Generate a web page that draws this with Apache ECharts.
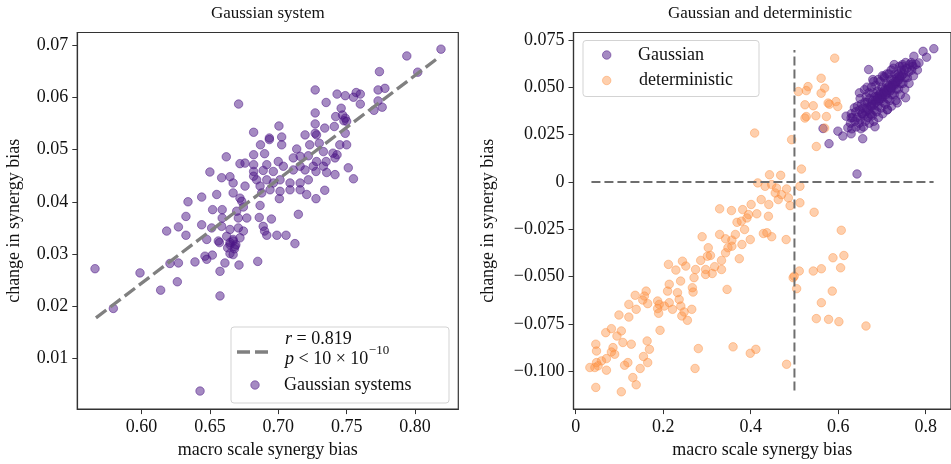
<!DOCTYPE html>
<html>
<head>
<meta charset="utf-8">
<script src="https://cdn.jsdelivr.net/npm/echarts@6/dist/echarts.min.js"></script>
<style>
  html, body { margin: 0; padding: 0; background: #fff; }
  #chart { width: 951px; height: 464px; }
</style>
</head>
<body>
<div id="chart"></div>
<script>
// left panel: gaussian systems [macro bias, change in bias]
var gaussSystems = [
  [0.819,0.0692],[0.794,0.0679],[0.774,0.0649],[0.802,0.0648],[0.727,0.0614],[0.743,0.0606],[0.749,0.0603],[0.757,0.0609],
  [0.760,0.0606],[0.755,0.0600],[0.773,0.0614],[0.778,0.0617],[0.773,0.0593],[0.776,0.0581],[0.770,0.0575],[0.760,0.0587],
  [0.735,0.0590],[0.746,0.0579],[0.671,0.0587],[0.727,0.0570],[0.742,0.0563],[0.749,0.0560],[0.750,0.0554],[0.682,0.0533],
  [0.7005,0.0545],[0.727,0.0549],[0.734,0.0541],[0.741,0.0544],[0.727,0.0531],[0.7196,0.0528],[0.6935,0.0522],[0.7025,0.0524],
  [0.749,0.0531],[0.687,0.0509],[0.6935,0.0519],[0.7025,0.0509],[0.728,0.0528],[0.723,0.0509],[0.730,0.0512],[0.745,0.0509],
  [0.750,0.0509],[0.7135,0.0501],[0.733,0.0496],[0.740,0.0493],[0.743,0.0490],[0.662,0.0486],[0.682,0.0490],[0.690,0.0492],
  [0.700,0.0477],[0.711,0.0484],[0.716,0.0487],[0.722,0.0488],[0.728,0.0477],[0.735,0.0477],[0.7415,0.0484],[0.672,0.0473],
  [0.6757,0.0474],[0.682,0.0471],[0.6916,0.0471],[0.7037,0.0468],[0.716,0.0468],[0.7196,0.0461],[0.7256,0.0468],[0.733,0.0468],
  [0.650,0.0457],[0.682,0.0458],[0.689,0.0460],[0.6964,0.0458],[0.711,0.0461],[0.7276,0.0458],[0.7354,0.0456],[0.7415,0.0452],
  [0.7512,0.0465],[0.755,0.0444],[0.6586,0.0446],[0.6647,0.0448],[0.667,0.0436],[0.682,0.0449],[0.6842,0.0442],[0.6916,0.0442],
  [0.6964,0.0436],[0.7013,0.0442],[0.7086,0.0436],[0.716,0.0436],[0.722,0.0442],[0.6757,0.0430],[0.6867,0.0430],[0.694,0.0423],
  [0.7013,0.0420],[0.7086,0.0423],[0.716,0.0423],[0.7208,0.0414],[0.667,0.0417],[0.655,0.0414],[0.644,0.0409],[0.734,0.0422],
  [0.6879,0.0417],[0.7008,0.0406],[0.7276,0.0406],[0.672,0.0407],[0.634,0.0400],[0.6733,0.0401],[0.6745,0.0390],[0.6867,0.0393],
  [0.652,0.0385],[0.659,0.0385],[0.6696,0.0382],[0.6325,0.0372],[0.6708,0.0369],[0.677,0.0369],[0.6861,0.0370],[0.695,0.0367],
  [0.7147,0.0376],[0.659,0.0369],[0.644,0.0356],[0.6513,0.0350],[0.6586,0.0353],[0.6647,0.0347],[0.6708,0.0350],[0.627,0.0352],
  [0.6184,0.0344],[0.6325,0.0336],[0.6745,0.0344],[0.689,0.0353],[0.690,0.0344],[0.6916,0.0336],[0.699,0.0336],[0.7057,0.0336],
  [0.7122,0.0320],[0.6477,0.0328],[0.6562,0.0325],[0.6623,0.0334],[0.667,0.0328],[0.672,0.0331],[0.6647,0.0318],[0.657,0.0322],
  [0.6647,0.0322],[0.6684,0.0315],[0.6464,0.0296],[0.6518,0.0298],[0.6477,0.0290],[0.6647,0.0301],[0.667,0.0299],[0.566,0.0272],
  [0.5989,0.0264],[0.6208,0.0282],[0.627,0.0283],[0.6391,0.0285],[0.661,0.0283],[0.6574,0.0267],[0.6713,0.0279],[0.685,0.0286],
  [0.6262,0.0247],[0.614,0.0231],[0.6574,0.0220],[0.5794,0.0196],[0.6428,0.0038],
  [0.667,0.0325],[0.669,0.0318],[0.663,0.0312],[0.748,0.0555],[0.747,0.0566],[0.668,0.0310]
];
var fitLine = [[0.5667,0.0178],[0.8183,0.0678]];

// right panel
var gaussRight = [
  // outer points
  [0.8186,0.0703],[0.794,0.0689],[0.802,0.0658],[0.773,0.0663],[0.6696,0.0593],[0.5653,0.0282],[0.579,0.0202],[0.5993,0.0268],
  [0.6107,0.0242],[0.6295,0.0254],[0.656,0.0228],[0.684,0.0291],[0.622,0.0286],[0.618,0.0347],[0.637,0.0391],[0.6485,0.0470],
  [0.660,0.0487],[0.679,0.0540],[0.705,0.0558],[0.728,0.0619],[0.747,0.0619],[0.769,0.0619],[0.7846,0.0628],[0.754,0.0444],
  [0.735,0.0417],[0.7127,0.0382],[0.675,0.0356],[0.6295,0.0338],[0.643,0.0042],
  // core
  [0.631,0.028],[0.628,0.031],[0.633,0.034],[0.630,0.036],
  [0.641,0.029],[0.638,0.032],[0.643,0.034],[0.640,0.037],[0.644,0.040],
  [0.652,0.028],[0.648,0.031],[0.651,0.033],[0.654,0.036],[0.649,0.038],[0.653,0.041],[0.650,0.044],
  [0.658,0.029],[0.662,0.032],[0.659,0.035],[0.663,0.037],[0.657,0.039],[0.661,0.042],[0.664,0.045],
  [0.671,0.031],[0.668,0.034],[0.673,0.036],[0.669,0.038],[0.674,0.040],[0.667,0.042],[0.672,0.044],[0.670,0.047],[0.666,0.050],
  [0.681,0.032],[0.678,0.035],[0.683,0.038],[0.677,0.040],[0.682,0.041],[0.679,0.043],[0.684,0.045],[0.680,0.047],[0.676,0.050],[0.681,0.053],
  [0.692,0.034],[0.688,0.037],[0.691,0.040],[0.687,0.042],[0.693,0.043],[0.689,0.045],[0.694,0.046],[0.690,0.048],[0.686,0.051],[0.691,0.054],
  [0.702,0.036],[0.698,0.039],[0.703,0.042],[0.699,0.044],[0.701,0.045],[0.697,0.047],[0.704,0.048],[0.700,0.050],[0.696,0.053],[0.701,0.056],
  [0.712,0.038],[0.708,0.041],[0.713,0.044],[0.709,0.046],[0.711,0.047],[0.707,0.049],[0.714,0.050],[0.710,0.052],[0.706,0.055],[0.711,0.057],
  [0.722,0.040],[0.718,0.043],[0.723,0.046],[0.719,0.048],[0.721,0.049],[0.717,0.051],[0.724,0.052],[0.720,0.054],[0.716,0.057],[0.721,0.059],
  [0.732,0.043],[0.728,0.046],[0.733,0.049],[0.729,0.051],[0.731,0.052],[0.727,0.054],[0.734,0.055],[0.730,0.057],[0.726,0.060],
  [0.742,0.046],[0.738,0.049],[0.743,0.052],[0.739,0.054],[0.741,0.055],[0.737,0.057],[0.744,0.059],[0.740,0.061],
  [0.752,0.049],[0.748,0.052],[0.753,0.055],[0.749,0.057],[0.751,0.059],[0.747,0.061],[0.754,0.063],
  [0.762,0.052],[0.758,0.055],[0.761,0.058],[0.757,0.060],[0.763,0.062],
  [0.772,0.056],[0.768,0.059],[0.771,0.061],[0.767,0.063],
  [0.781,0.059],[0.778,0.062],
  // denser middle band
  [0.685,0.043],[0.695,0.044],[0.705,0.047],[0.715,0.049],[0.725,0.051],[0.735,0.053],[0.745,0.056],[0.675,0.041],
  [0.665,0.039],[0.655,0.036],[0.700,0.046],[0.710,0.048],[0.720,0.050],[0.730,0.053],[0.690,0.044],[0.740,0.056]
];
var deterministic = [
  [0.592,0.0653],[0.561,0.0547],[0.531,0.0503],[0.509,0.0477],[0.527,0.0482],[0.569,0.0495],[0.561,0.0468],[0.524,0.0407],
  [0.543,0.0402],[0.577,0.0416],[0.595,0.0424],[0.599,0.0398],[0.580,0.0410],[0.527,0.0345],[0.524,0.0337],[0.549,0.0349],
  [0.573,0.0345],[0.569,0.0284],[0.409,0.0258],[0.4935,0.0223],[0.550,0.0187],
  [0.516,0.0068],[0.443,0.0038],[0.4685,0.0035],[0.416,-0.0005],[0.433,-0.0023],[0.448,-0.0014],[0.459,-0.0032],[0.482,-0.0037],
  [0.5125,-0.0023],[0.456,-0.0058],[0.4705,-0.0067],[0.463,-0.0093],[0.486,-0.0084],[0.424,-0.0093],[0.4414,-0.0119],[0.490,-0.0125],
  [0.5125,-0.0110],[0.401,-0.0119],[0.329,-0.0142],[0.356,-0.0151],[0.3816,-0.0146],[0.395,-0.0172],[0.414,-0.0168],[0.4405,-0.0181],
  [0.545,-0.0160],[0.3687,-0.0213],[0.3787,-0.0207],[0.3914,-0.0190],[0.386,-0.0251],[0.429,-0.0272],[0.437,-0.0268],[0.448,-0.0289],
  [0.481,-0.0304],[0.607,-0.0255],[0.289,-0.0289],[0.329,-0.0277],[0.3425,-0.0300],[0.365,-0.0277],[0.357,-0.0307],[0.399,-0.0304],
  [0.380,-0.0330],[0.303,-0.0347],[0.348,-0.0347],[0.357,-0.0339],[0.3425,-0.0374],[0.301,-0.0392],[0.308,-0.0388],[0.2857,-0.0414],
  [0.3333,-0.0414],[0.374,-0.0405],[0.212,-0.0435],[0.244,-0.0418],[0.2517,-0.0444],[0.229,-0.0465],[0.274,-0.0462],[0.297,-0.0462],
  [0.3175,-0.0447],[0.3333,-0.0462],[0.588,-0.0400],[0.613,-0.0388],[0.6055,-0.0453],[0.511,-0.0470],[0.543,-0.0470],[0.5615,-0.0458],
  [0.4995,-0.0497],[0.297,-0.0488],[0.312,-0.0483],[0.2705,-0.0505],[0.2398,-0.0523],[0.2138,-0.0540],[0.2327,-0.0584],[0.210,-0.0576],
  [0.2667,-0.0558],[0.2683,-0.0581],[0.346,-0.0567],[0.161,-0.0576],[0.136,-0.0598],[0.157,-0.0602],[0.1533,-0.0623],[0.1646,-0.0642],
  [0.1215,-0.0646],[0.1383,-0.0672],[0.1873,-0.0628],[0.191,-0.0646],[0.1873,-0.0668],[0.2025,-0.0655],[0.2138,-0.0637],[0.2213,-0.0672],
  [0.2365,-0.0620],[0.2403,-0.0655],[0.2426,-0.0707],[0.2553,-0.0730],[0.2478,-0.0686],[0.2653,-0.0672],[0.1896,-0.0693],[0.0989,-0.0702],
  [0.1215,-0.0713],[0.1928,-0.0783],[0.0687,-0.0795],[0.0816,-0.0774],[0.1043,-0.0786],[0.0943,-0.0813],[0.1079,-0.0847],[0.127,-0.0856],
  [0.1633,-0.0839],[0.1685,-0.0883],[0.046,-0.0856],[0.0476,-0.0892],[0.0853,-0.0874],[0.0816,-0.0897],[0.0891,-0.0909],[0.0703,-0.0932],
  [0.059,-0.0944],[0.0476,-0.0953],[0.0512,-0.0970],[0.0324,-0.0979],[0.0438,-0.0979],[0.0703,-0.0993],[0.1118,-0.0967],[0.1193,-0.0953],
  [0.1549,-0.0921],[0.1646,-0.0953],[0.1474,-0.0984],[0.1306,-0.1032],[0.1383,-0.1070],[0.046,-0.1084],[0.1043,-0.1107],[0.2803,-0.0879],
  [0.2728,-0.0984],[0.3597,-0.0870],[0.399,-0.0904],[0.4118,-0.0883],[0.482,-0.0962],[0.497,-0.0505],[0.505,-0.0563],[0.5864,-0.0576],
  [0.5615,-0.0637],[0.550,-0.0721],[0.578,-0.0725],[0.6016,-0.0737],[0.6635,-0.0760]
];
var vLine = [[0.5,-0.110],[0.5,0.0696]];
var hLine = [[0.036,0],[0.818,0]];

var leftXTicks = [0.60,0.65,0.70,0.75,0.80];
var leftYTicks = [0.01,0.02,0.03,0.04,0.05,0.06,0.07];
var rightXTicks = [0,0.2,0.4,0.6,0.8];
var rightYTicks = [-0.1,-0.075,-0.05,-0.025,0,0.025,0.05,0.075];

var FONT = '"Liberation Serif", "DejaVu Serif", serif';
var PURPLE = '#4b1585';
var ORANGE = '#fd8d3c';

function dotStyle(c, a) {
  return { color: c, opacity: a, borderColor: c, borderWidth: 1 };
}
function fmtRightY(v) {
  if (Math.abs(v) < 1e-9) return '0';
  var s = Math.abs(v).toFixed(3);
  return v < 0 ? '\u2212' + s : s;
}
function fmtRightX(v) {
  return v === 0 ? '0' : String(v);
}
function xAx(idx, min, max, ticks, fmt) {
  return {
    type: 'value', gridIndex: idx, min: min, max: max,
    name: 'macro scale synergy bias', nameLocation: 'middle', nameGap: 31,
    nameTextStyle: { fontFamily: FONT, fontSize: 18, color: '#111' },
    axisLine: { show: true, onZero: false, lineStyle: { color: '#333', width: 1.2 } },
    axisTick: { show: true, length: 5, lineStyle: { color: '#333' }, customValues: ticks },
    axisLabel: { fontFamily: FONT, fontSize: 18, color: '#111', margin: 9, customValues: ticks, formatter: fmt },
    splitLine: { show: false }
  };
}
function yAx(idx, min, max, ticks, fmt, gap) {
  return {
    type: 'value', gridIndex: idx, min: min, max: max,
    name: 'change in synergy bias', nameLocation: 'middle', nameGap: gap,
    nameTextStyle: { fontFamily: FONT, fontSize: 18, color: '#111' },
    axisLine: { show: true, onZero: false, lineStyle: { color: '#333', width: 1.2 } },
    axisTick: { show: true, length: 5, lineStyle: { color: '#333' }, customValues: ticks },
    axisLabel: { fontFamily: FONT, fontSize: 18, color: '#111', margin: 9, customValues: ticks, formatter: fmt },
    splitLine: { show: false }
  };
}

// width of the legend base text, so the exponent sits right after it
var measure = document.createElement('canvas').getContext('2d');
measure.font = '18px ' + FONT;
var pBaseW = measure.measureText('p < 10 \u00d7 10').width;

var chart = echarts.init(document.getElementById('chart'));
var option = {
  animation: false,
  backgroundColor: '#fff',
  grid: [
    { left: 77.3, top: 32.5, width: 381, height: 377.5, show: true, borderColor: '#333', borderWidth: 1.2 },
    { left: 573.5, top: 32.5, width: 380.5, height: 377.5, show: true, borderColor: '#333', borderWidth: 1.2 }
  ],
  xAxis: [
    xAx(0, 0.55305, 0.83166, leftXTicks, function (v) { return v.toFixed(2); }),
    xAx(1, -0.00499, 0.8578, rightXTicks, fmtRightX)
  ],
  yAxis: [
    yAx(0, 0.000344, 0.072385, leftYTicks, function (v) { return v.toFixed(2); }, 54),
    yAx(1, -0.11984, 0.07884, rightYTicks, fmtRightY, 76)
  ],
  series: [
    { type: 'scatter', xAxisIndex: 0, yAxisIndex: 0, data: gaussSystems, symbolSize: 8.5,
      itemStyle: dotStyle(PURPLE, 0.5), emphasis: { disabled: true } },
    { type: 'line', xAxisIndex: 0, yAxisIndex: 0, data: fitLine, showSymbol: false, z: 3,
      lineStyle: { color: '#808080', width: 3.3, type: [13, 5] }, emphasis: { disabled: true } },
    { type: 'scatter', xAxisIndex: 1, yAxisIndex: 1, data: gaussRight, symbolSize: 8.5,
      itemStyle: dotStyle(PURPLE, 0.5), emphasis: { disabled: true } },
    { type: 'scatter', xAxisIndex: 1, yAxisIndex: 1, data: deterministic, symbolSize: 8.5,
      itemStyle: dotStyle(ORANGE, 0.42), emphasis: { disabled: true } },
    { type: 'line', xAxisIndex: 1, yAxisIndex: 1, data: vLine, showSymbol: false, z: 3,
      lineStyle: { color: '#6e6e6e', width: 2, type: [9, 4] }, emphasis: { disabled: true } },
    { type: 'line', xAxisIndex: 1, yAxisIndex: 1, data: hLine, showSymbol: false, z: 3,
      lineStyle: { color: '#6e6e6e', width: 2, type: [9, 4] }, emphasis: { disabled: true } }
  ],
  graphic: [
    // titles
    { type: 'text', x: 267.8, y: 14, z: 10,
      style: { text: 'Gaussian system', font: '17px ' + FONT, fill: '#111', align: 'center', verticalAlign: 'middle' } },
    { type: 'text', x: 760, y: 14, z: 10,
      style: { text: 'Gaussian and deterministic', font: '17px ' + FONT, fill: '#111', align: 'center', verticalAlign: 'middle' } },
    // left legend
    { type: 'rect', z: 10, shape: { x: 231, y: 327, width: 218, height: 76, r: 3 },
      style: { fill: 'rgba(255,255,255,0.85)', stroke: '#d3d3d3', lineWidth: 1 } },
    { type: 'line', z: 11, shape: { x1: 237, y1: 352, x2: 272, y2: 352 },
      style: { stroke: '#808080', lineWidth: 3.3, lineDash: [13, 5] } },
    { type: 'text', x: 285, y: 339, z: 11,
      style: { text: '{i|r} = 0.819', font: '18px ' + FONT, fill: '#111', verticalAlign: 'middle',
        rich: { i: { fontStyle: 'italic', fontFamily: FONT, fontSize: 18 } } } },
    { type: 'text', x: 285, y: 359, z: 11,
      style: { text: '{i|p} < 10 \u00d7 10', font: '18px ' + FONT, fill: '#111', verticalAlign: 'middle',
        rich: { i: { fontStyle: 'italic', fontFamily: FONT, fontSize: 18 } } } },
    { type: 'text', x: 285 + pBaseW + 0.5, y: 351, z: 11,
      style: { text: '\u221210', font: '13px ' + FONT, fill: '#111', verticalAlign: 'middle' } },
    { type: 'circle', z: 11, shape: { cx: 255, cy: 385, r: 4.25 },
      style: { fill: PURPLE, stroke: PURPLE, lineWidth: 1, opacity: 0.5 } },
    { type: 'text', x: 284, y: 385, z: 11,
      style: { text: 'Gaussian systems', font: '18px ' + FONT, fill: '#111', verticalAlign: 'middle' } },
    // right legend
    { type: 'rect', z: 10, shape: { x: 583, y: 40.5, width: 176, height: 56, r: 3 },
      style: { fill: 'rgba(255,255,255,0.85)', stroke: '#d3d3d3', lineWidth: 1 } },
    { type: 'circle', z: 11, shape: { cx: 606.7, cy: 55, r: 4.25 },
      style: { fill: PURPLE, stroke: PURPLE, lineWidth: 1, opacity: 0.5 } },
    { type: 'text', x: 638, y: 55, z: 11,
      style: { text: 'Gaussian', font: '18px ' + FONT, fill: '#111', verticalAlign: 'middle' } },
    { type: 'circle', z: 11, shape: { cx: 606.7, cy: 80.5, r: 4.25 },
      style: { fill: ORANGE, stroke: ORANGE, lineWidth: 1, opacity: 0.42 } },
    { type: 'text', x: 639, y: 80.5, z: 11,
      style: { text: 'deterministic', font: '18px ' + FONT, fill: '#111', verticalAlign: 'middle' } }
  ]
};
chart.setOption(option);
</script>
</body>
</html>
